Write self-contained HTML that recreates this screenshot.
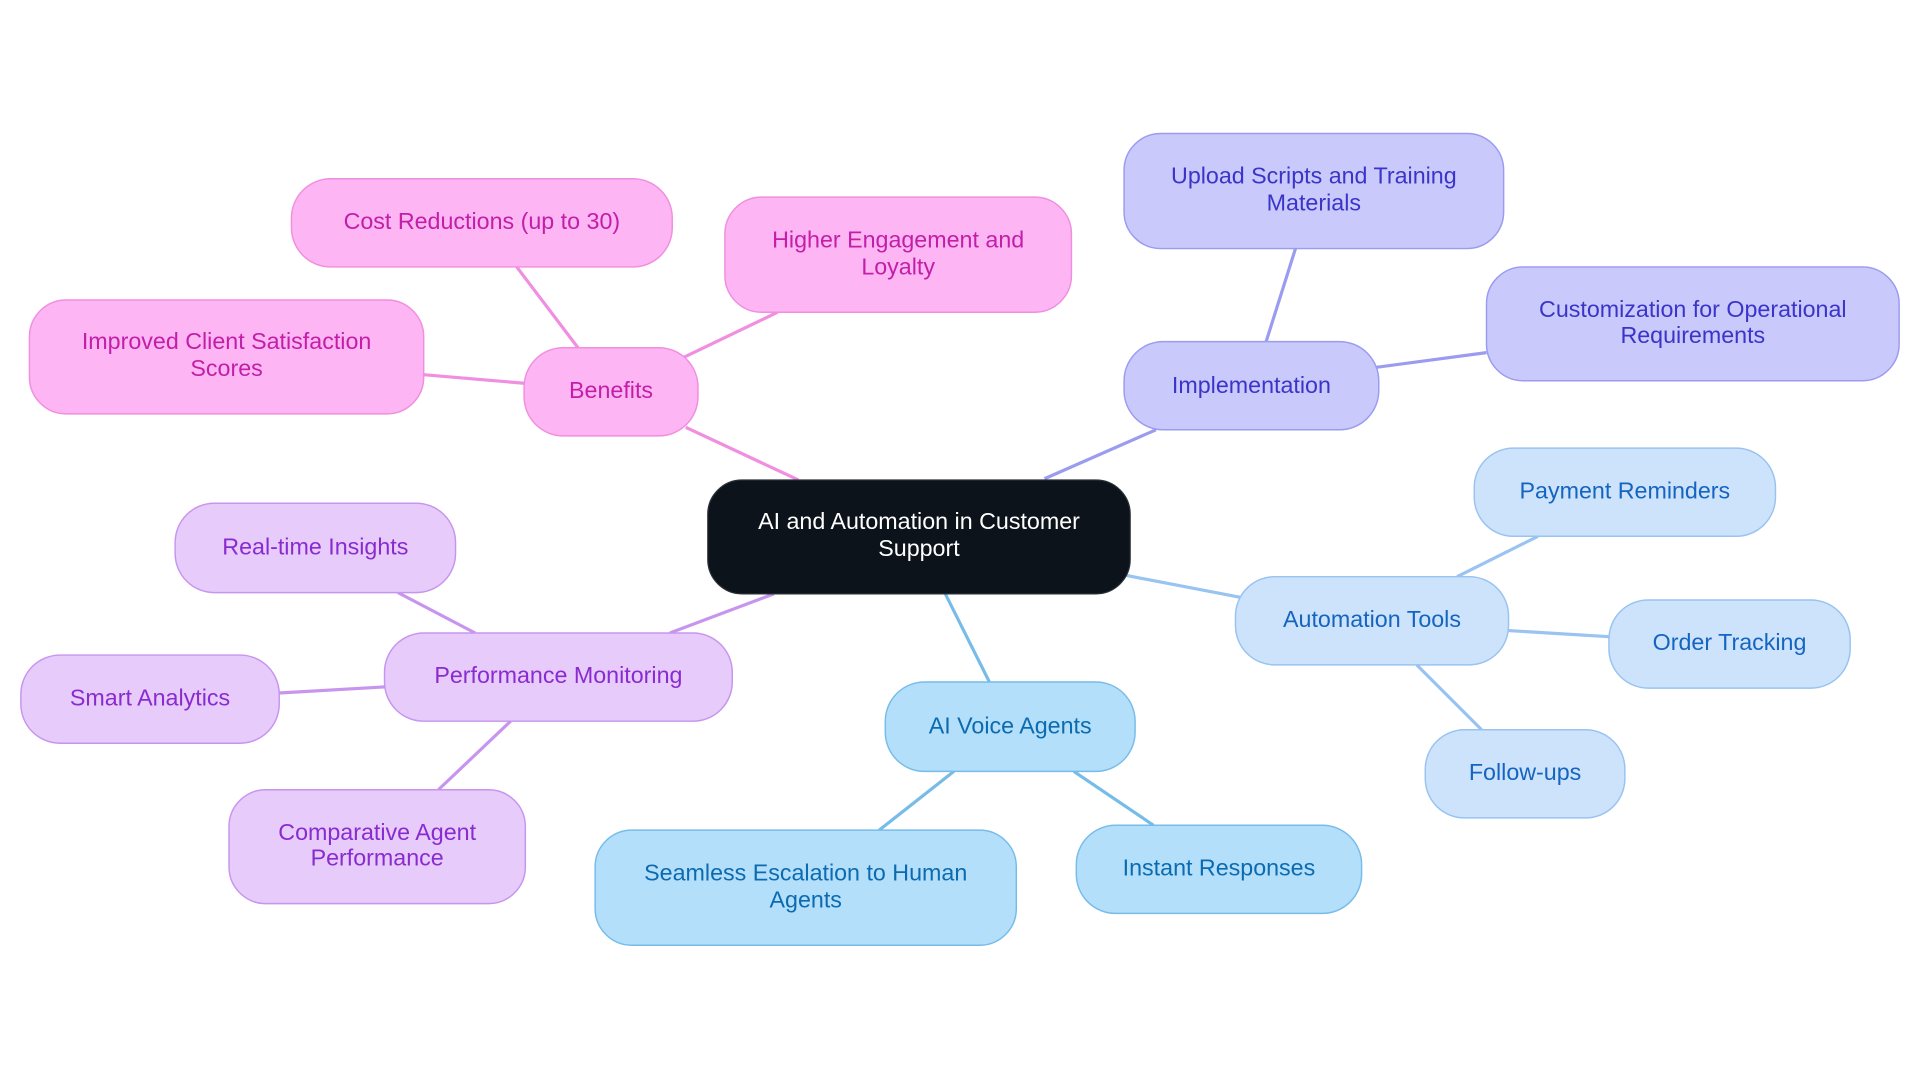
<!DOCTYPE html>
<html><head><meta charset="utf-8"><style>
html,body{margin:0;padding:0;background:#fff;width:1920px;height:1083px;overflow:hidden}
svg{display:block}
text{font-family:"Liberation Sans",sans-serif;font-size:19px;text-anchor:middle}
</style></head><body>
<svg width="1920" height="1083" viewBox="0 0 1568 884.5" xmlns="http://www.w3.org/2000/svg">
<g stroke-width="2.6" fill="none">
<g stroke="#f08ee0">
<line x1="652" y1="392" x2="560" y2="349"/>
<line x1="472" y1="284" x2="422" y2="218"/>
<line x1="558" y1="292" x2="635" y2="255"/>
<line x1="428" y1="313" x2="346" y2="306"/>
</g>
<g stroke="#9b9bf0">
<line x1="853" y1="391" x2="944" y2="351"/>
<line x1="1034" y1="279" x2="1058" y2="203"/>
<line x1="1124" y1="300" x2="1214" y2="288"/>
</g>
<g stroke="#99c3f0">
<line x1="920" y1="470" x2="1014" y2="488"/>
<line x1="1190" y1="471" x2="1256" y2="438"/>
<line x1="1232" y1="515" x2="1314" y2="520"/>
<line x1="1157" y1="543" x2="1210" y2="596"/>
</g>
<g stroke="#77bce9">
<line x1="772" y1="485" x2="808" y2="557"/>
<line x1="779" y1="630" x2="718" y2="678"/>
<line x1="877" y1="630" x2="942" y2="674"/>
</g>
<g stroke="#c895ee">
<line x1="632" y1="485" x2="547" y2="517"/>
<line x1="388" y1="517" x2="325" y2="484"/>
<line x1="314" y1="561" x2="228" y2="566"/>
<line x1="417" y1="589" x2="358" y2="645"/>
</g>
</g>
<!-- center -->
<rect x="578" y="392" width="345" height="93" rx="28" fill="#0d131b" stroke="#2a3038" stroke-width="1"/>
<text x="750.5" y="432" fill="#fff">AI and Automation in Customer</text>
<text x="750.5" y="454" fill="#fff">Support</text>
<!-- pink -->
<g fill="#fdb6f3" stroke="#f08ee0" stroke-width="1.2">
<rect x="428" y="284" width="142" height="72" rx="32"/>
<rect x="238" y="146" width="311" height="72" rx="32"/>
<rect x="592" y="161" width="283" height="94" rx="30"/>
<rect x="24" y="245" width="322" height="93" rx="30"/>
</g>
<g fill="#c21ea8">
<text x="499" y="325">Benefits</text>
<text x="393.5" y="187">Cost Reductions (up to 30)</text>
<text x="733.5" y="202">Higher Engagement and</text>
<text x="733.5" y="224">Loyalty</text>
<text x="185" y="285">Improved Client Satisfaction</text>
<text x="185" y="307">Scores</text>
</g>
<!-- indigo -->
<g fill="#c9c9fb" stroke="#9b9bf0" stroke-width="1.2">
<rect x="918" y="279" width="208" height="72" rx="32"/>
<rect x="918" y="109" width="310" height="94" rx="30"/>
<rect x="1214" y="218" width="337" height="93" rx="30"/>
</g>
<g fill="#3a35c8">
<text x="1022" y="321">Implementation</text>
<text x="1073" y="150">Upload Scripts and Training</text>
<text x="1073" y="172">Materials</text>
<text x="1382.5" y="259">Customization for Operational</text>
<text x="1382.5" y="280">Requirements</text>
</g>
<!-- light blue -->
<g fill="#cce3fb" stroke="#99c3f0" stroke-width="1.2">
<rect x="1009" y="471" width="223" height="72" rx="32"/>
<rect x="1204" y="366" width="246" height="72" rx="32"/>
<rect x="1314" y="490" width="197" height="72" rx="32"/>
<rect x="1164" y="596" width="163" height="72" rx="32"/>
</g>
<g fill="#1565c0">
<text x="1120.5" y="512">Automation Tools</text>
<text x="1327" y="407">Payment Reminders</text>
<text x="1412.5" y="531">Order Tracking</text>
<text x="1245.5" y="637">Follow-ups</text>
</g>
<!-- sky -->
<g fill="#b4dffb" stroke="#77bce9" stroke-width="1.2">
<rect x="723" y="557" width="204" height="73" rx="32"/>
<rect x="486" y="678" width="344" height="94" rx="30"/>
<rect x="879" y="674" width="233" height="72" rx="32"/>
</g>
<g fill="#0b6bb0">
<text x="825" y="599">AI Voice Agents</text>
<text x="658" y="719">Seamless Escalation to Human</text>
<text x="658" y="741">Agents</text>
<text x="995.5" y="715">Instant Responses</text>
</g>
<!-- lavender -->
<g fill="#e6cbfb" stroke="#c895ee" stroke-width="1.2">
<rect x="314" y="517" width="284" height="72" rx="32"/>
<rect x="143" y="411" width="229" height="73" rx="32"/>
<rect x="17" y="535" width="211" height="72" rx="32"/>
<rect x="187" y="645" width="242" height="93" rx="30"/>
</g>
<g fill="#8a2bd0">
<text x="456" y="558">Performance Monitoring</text>
<text x="257.5" y="453">Real-time Insights</text>
<text x="122.5" y="576">Smart Analytics</text>
<text x="308" y="686">Comparative Agent</text>
<text x="308" y="707">Performance</text>
</g>
</svg>
</body></html>
